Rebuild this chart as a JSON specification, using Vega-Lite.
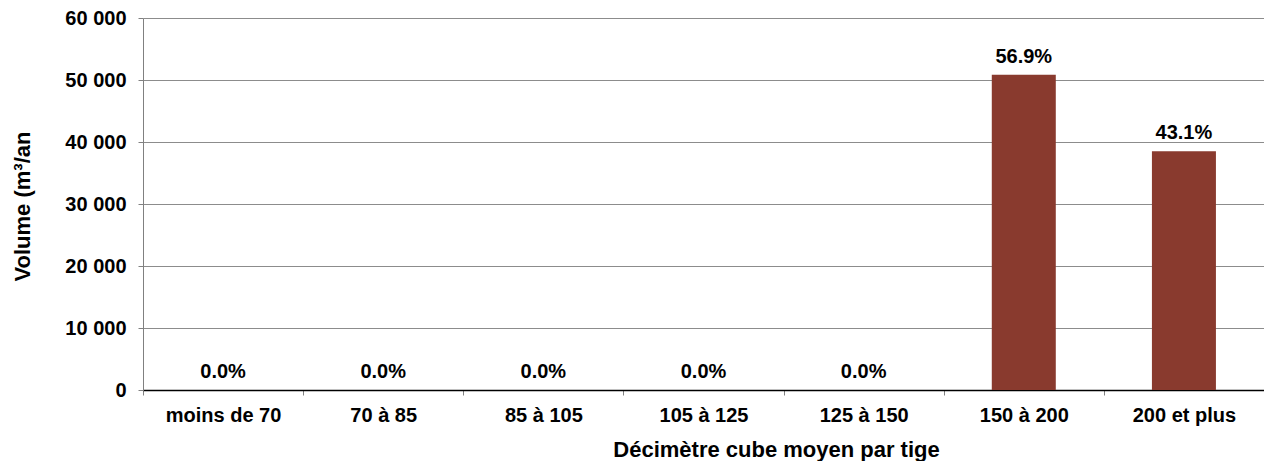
{
  "$schema": "https://vega.github.io/schema/vega-lite/v6.json",
  "width": 1121,
  "height": 372,
  "autosize": {"type": "none"},
  "padding": {"left": 143, "top": 18, "right": 0, "bottom": 71},
  "background": "white",
  "config": {"view": {"stroke": null}, "font": "Liberation Sans"},
  "data": {
    "values": [
      {"classe": "moins de 70", "volume": 0, "pct": "0.0%"},
      {"classe": "70 à 85", "volume": 0, "pct": "0.0%"},
      {"classe": "85 à 105", "volume": 0, "pct": "0.0%"},
      {"classe": "105 à 125", "volume": 0, "pct": "0.0%"},
      {"classe": "125 à 150", "volume": 0, "pct": "0.0%"},
      {"classe": "150 à 200", "volume": 50850, "pct": "56.9%"},
      {"classe": "200 et plus", "volume": 38500, "pct": "43.1%"}
    ]
  },
  "encoding": {
    "x": {
      "field": "classe",
      "type": "nominal",
      "sort": null,
      "scale": {"paddingInner": 0, "paddingOuter": 0},
      "axis": {
        "title": "Décimètre cube moyen par tige",
        "titleFontSize": 22,
        "titleFontWeight": "bold",
        "titleColor": "black",
        "titleX": 633,
        "titleY": 66,
        "titleBaseline": "alphabetic",
        "titleAlign": "center",
        "labelAngle": 0,
        "labelFontSize": 20,
        "labelFontWeight": "bold",
        "labelColor": "black",
        "labelPadding": 10,
        "tickBand": "extent",
        "tickSize": 5,
        "tickColor": "#808080",
        "domainColor": "black",
        "domainWidth": 1.5,
        "grid": false
      }
    },
    "y": {
      "field": "volume",
      "type": "quantitative",
      "scale": {"domain": [0, 60000], "nice": false},
      "axis": {
        "values": [0, 10000, 20000, 30000, 40000, 50000, 60000],
        "labelExpr": "replace(format(datum.value, ','), ',', ' ')",
        "title": "Volume (m³/an",
        "titleFontSize": 22,
        "titleFontWeight": "bold",
        "titleColor": "black",
        "titleAngle": -90,
        "titleX": -121,
        "titleY": 188,
        "titleBaseline": "middle",
        "titleAlign": "center",
        "labelFontSize": 20,
        "labelFontWeight": "bold",
        "labelColor": "black",
        "labelPadding": 12,
        "tickSize": 5,
        "tickColor": "#808080",
        "domainColor": "#808080",
        "grid": true,
        "gridColor": "#8c8c8c"
      }
    }
  },
  "layer": [
    {"mark": {"type": "bar", "size": 64, "color": "#893A2E"}},
    {
      "mark": {"type": "text", "dy": -12, "baseline": "alphabetic", "fontWeight": "bold", "fontSize": 20, "color": "black"},
      "encoding": {"text": {"field": "pct"}}
    }
  ]
}
